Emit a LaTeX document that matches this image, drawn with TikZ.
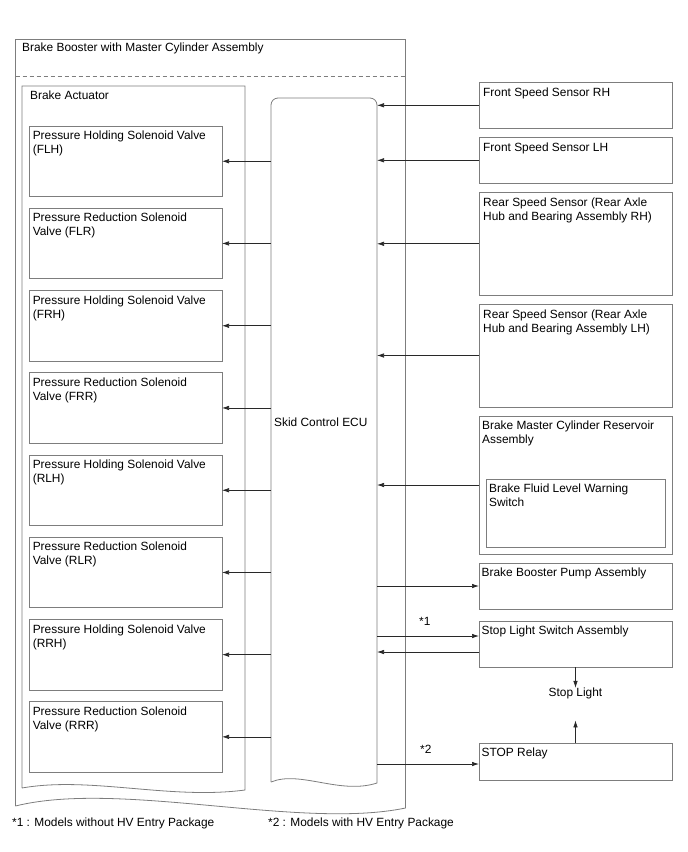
\documentclass[tikz,border=0pt]{standalone}
\usepackage{fontspec}
\setmainfont{Liberation Sans}
\usetikzlibrary{arrows.meta}
\definecolor{boxgray}{RGB}{125,125,125}
\definecolor{linegray}{RGB}{40,40,40}
\begin{document}
\begin{tikzpicture}[x=1pt,y=-1pt,
  font=\fontsize{11.9}{14}\selectfont,
  box/.style={draw=boxgray,line width=0.8pt,anchor=north west,inner sep=0pt,outer sep=0pt},
  cont/.style={draw=boxgray,line width=0.8pt},
  lbl/.style={anchor=north west,inner sep=0pt,align=left},
  arr/.style={draw=linegray,line width=0.7pt,-{Latex[length=7pt,width=4.5pt]}},
  valve/.style={box,minimum width=193,minimum height=70.5},
  sensor/.style={box,minimum width=193}]
\useasboundingbox (0,0) rectangle (688,852);

% outer container
\draw[cont] (15.5,806) -- (15.5,39.5) -- (405.5,39.5) -- (405.5,808)
  .. controls (300,830) and (120,780) .. (15.5,806);
\draw[cont,dash pattern=on 4pt off 3pt] (15.5,76) -- (405.5,76);
\node[lbl] (bbl) at (22,43) {Brake Booster with Master Cylinder Assembly};

% brake actuator container
\draw[cont] (22,788) -- (22,86) -- (245,86) -- (245,790)
  .. controls (170,800) and (90,776) .. (22,788);
\node[lbl] (bal) at (30,90.8) {Brake Actuator};

% ECU
\node[anchor=north west,inner sep=0pt,outer sep=0pt,minimum width=106,minimum height=685] (ecu) at (271,98) {};
\draw[cont] (271,782) -- (271,105) arc[start angle=180,end angle=90,radius=7pt]
  -- (370,98) arc[start angle=90,end angle=0,radius=7pt] -- (377,783)
  .. controls (340,795) and (300,770) .. (271,782);
\node[anchor=base west,inner sep=0pt] (ecul) at (274,426) {Skid Control ECU};

% valves
\node[valve] (v1) at (29,126) {};
\node[valve] (v2) at (29,208.2) {};
\node[valve] (v3) at (29,290.5) {};
\node[valve] (v4) at (29,372.7) {};
\node[valve] (v5) at (29,455) {};
\node[valve] (v6) at (29,537.2) {};
\node[valve] (v7) at (29,619.4) {};
\node[valve] (v8) at (29,701.6) {};
\node[lbl] at ([shift={(3.6,4.8)}]v1.north west) {Pressure Holding Solenoid Valve\\(FLH)};
\node[lbl] at ([shift={(3.6,4.8)}]v2.north west) {Pressure Reduction Solenoid\\Valve (FLR)};
\node[lbl] at ([shift={(3.6,4.8)}]v3.north west) {Pressure Holding Solenoid Valve\\(FRH)};
\node[lbl] at ([shift={(3.6,4.8)}]v4.north west) {Pressure Reduction Solenoid\\Valve (FRR)};
\node[lbl] at ([shift={(3.6,4.8)}]v5.north west) {Pressure Holding Solenoid Valve\\(RLH)};
\node[lbl] at ([shift={(3.6,4.8)}]v6.north west) {Pressure Reduction Solenoid\\Valve (RLR)};
\node[lbl] at ([shift={(3.6,4.8)}]v7.north west) {Pressure Holding Solenoid Valve\\(RRH)};
\node[lbl] at ([shift={(3.6,4.8)}]v8.north west) {Pressure Reduction Solenoid\\Valve (RRR)};
\foreach \v in {v1,v2,v3,v4,v5,v6,v7,v8}{
  \draw[arr] (ecu.west |- \v.east) -- (\v.east);
}

% right column
\node[sensor,minimum height=46] (frh) at (479,82.3) {};
\node[sensor,minimum height=46] (flh) at (479,137.3) {};
\node[sensor,minimum height=103] (rrh) at (479,192.3) {};
\node[sensor,minimum height=103] (rlh) at (479,304) {};
\node[sensor,minimum height=138] (res) at (479,416) {};
\node[box,minimum width=179,minimum height=68] (sw) at (486,479) {};
\node[sensor,minimum height=46] (pump) at (479,563) {};
\node[sensor,minimum height=46] (sls) at (479,621) {};
\node[sensor,minimum height=37] (relay) at (479,743) {};

\node[lbl] at ([shift={(4,5.3)}]frh.north west) {Front Speed Sensor RH};
\node[lbl] at ([shift={(4,5.3)}]flh.north west) {Front Speed Sensor LH};
\node[lbl] at ([shift={(4,5.3)}]rrh.north west) {Rear Speed Sensor (Rear Axle\\Hub and Bearing Assembly RH)};
\node[lbl] at ([shift={(4,5.3)}]rlh.north west) {Rear Speed Sensor (Rear Axle\\Hub and Bearing Assembly LH)};
\node[lbl] at ([shift={(3,5)}]res.north west) {Brake Master Cylinder Reservoir\\Assembly};
\node[lbl] at ([shift={(3,5)}]sw.north west) {Brake Fluid Level Warning\\Switch};
\node[lbl] at ([shift={(2.5,5)}]pump.north west) {Brake Booster Pump Assembly};
\node[lbl] at ([shift={(2.5,5)}]sls.north west) {Stop Light Switch Assembly};
\node[lbl] at ([shift={(2.5,5)}]relay.north west) {STOP Relay};

\foreach \s in {frh,flh,rrh,rlh,res}{
  \draw[arr] (\s.west) -- (\s.west -| ecu.east);
}
\draw[arr] (ecu.east |- pump.west) -- (pump.west);
\coordinate (s1) at ([yshift=8pt]sls.west);
\coordinate (s2) at ([yshift=-8pt]sls.west);
\draw[arr] (s1 -| ecu.east) -- (s1);
\draw[arr] (s2) -- (s2 -| ecu.east);
\coordinate (r1) at ([yshift=-2.5pt]relay.west);
\draw[arr] (r1 -| ecu.east) -- (r1);
\node[anchor=base west,inner sep=0pt] (n1) at (419,625.5) {*1};
\node[anchor=base west,inner sep=0pt] (n2) at (420,753.5) {*2};

% stop light
\node[anchor=base,inner sep=0pt] (sl) at (575.5,696.7) {Stop Light};
\coordinate (slb) at ([yshift=-21pt]sl.south);
\draw[arr] (sls.south) -- (sls.south |- sl.north);
\draw[arr] (relay.north) -- (relay.north |- slb);

% footnotes
\node[anchor=base west,inner sep=0pt] (f1) at (12,826) {*1 : Models without HV Entry Package};
\node[anchor=base west,inner sep=0pt] (f2) at (268,826.5) {*2 : Models with HV Entry Package};
\end{tikzpicture}
\end{document}
